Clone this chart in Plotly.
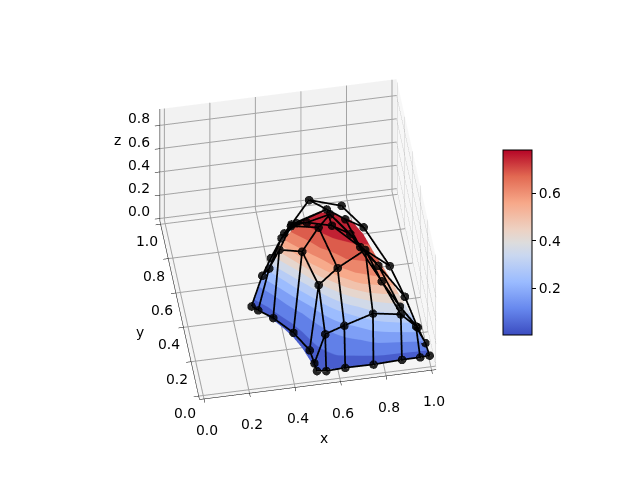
import plotly.graph_objects as go
import math
from plotly.colors import sample_colorscale
surf_x=[[.503,.561,.627,.688,.749,.811,.873,.935,.998],[.484,.538,.600,.659,.718,.779,.841,.903,.967],[.464,.516,.573,.630,.688,.748,.810,.872,.936],[.436,.482,.534,.588,.642,.700,.759,.820,.882],[.405,.448,.496,.548,.601,.657,.716,.776,.838],[.366,.407,.452,.502,.554,.609,.668,.729,.790],[.329,.369,.412,.463,.515,.570,.630,.692,.754],[.299,.336,.376,.426,.476,.530,.590,.651,.712],[.283,.312,.343,.385,.427,.473,.526,.580,.633]]
surf_y=[[.026,.026,.024,.023,.022,.026,.029,.030,.032],[.090,.070,.051,.035,.021,.014,.008,.000,-.006],[.161,.128,.099,.075,.054,.041,.030,.018,.007],[.229,.192,.160,.137,.117,.105,.094,.085,.075],[.285,.248,.218,.196,.179,.170,.162,.155,.145],[.343,.309,.282,.265,.251,.246,.241,.236,.227],[.389,.360,.339,.328,.320,.320,.318,.315,.306],[.417,.395,.381,.377,.374,.378,.378,.376,.365],[.438,.425,.419,.423,.426,.433,.435,.433,.418]]
surf_z=[[.03]*9,[.03,.07,.11,.14,.16,.18,.19,.20,.21],[.03,.11,.17,.23,.28,.31,.34,.35,.36],[.03,.14,.23,.31,.37,.42,.46,.48,.49],[.03,.16,.28,.37,.45,.51,.56,.58,.59],[.03,.18,.31,.42,.51,.58,.63,.66,.67],[.03,.19,.34,.46,.56,.63,.69,.72,.73],[.03,.20,.35,.48,.58,.66,.72,.76,.77],[.03,.21,.36,.49,.59,.67,.73,.77,.78]]
surf_c=[[.03]*9,[.03,.05,.07,.08,.09,.11,.115,.12,.13],[.03,.07,.10,.14,.17,.21,.24,.25,.26],[.03,.08,.14,.21,.27,.33,.39,.42,.43],[.03,.09,.17,.27,.37,.47,.55,.58,.59],[.03,.11,.21,.33,.47,.58,.65,.68,.69],[.03,.115,.24,.39,.55,.65,.71,.74,.745],[.03,.12,.25,.42,.58,.68,.74,.77,.775],[.03,.13,.26,.43,.59,.69,.745,.775,.78]]
net_x=[[.498,.539,.622,.747,.871,.951,.993],[.489,.545,.624,.749,.866,.933,.975],[.480,.536,.620,.743,.797,.863,.940],[.426,.484,.560,.619,.689,.790,.889],[.357,.395,.449,.516,.617,.723,.848],[.300,.347,.406,.474,.609,.679,.751],[.275,.318,.357,.420,.453,.549,.680]]
net_y=[[-.008,-.008,-.010,-.005,-.012,-.011,-.008],[.004,.056,.025,.020,-.011,-.011,-.006],[.075,.174,.178,.188,.078,-.006,-.011],[.179,.296,.322,.369,.256,.122,.020],[.297,.362,.383,.365,.310,.202,.172],[.351,.343,.374,.382,.399,.330,.278],[.378,.353,.355,.386,.392,.504,.435]]
net_z=[[.08,.07,.08,.07,.09,.09,.09],[.13,.29,.39,.47,.48,.36,.20],[.14,.54,.66,.77,.65,.54,.35],[.15,.66,.81,.84,.82,.72,.58],[.12,.60,.76,.80,.83,.78,.63],[.12,.48,.68,.78,.84,.84,.83],[.12,.41,.55,.70,.76,.78,.80]]
xy_ticks=[0,.2,.4,.6,.8,1]
z_ticks=[0,.2,.4,.6,.8]
cbar_ticks=[.2,.4,.6]
zmin,zmax=.003,.782
cw=[[0,"#3b4cc0"],[.143,"#6788ee"],[.286,"#9abbff"],[.429,"#c9d7f0"],[.5,"#dddcdc"],[.571,"#edd1c2"],[.714,"#f7a889"],[.857,"#e26952"],[1,"#b40426"]]
N=12
steps=[]
for k in range(N):
    c=sample_colorscale(cw,[(k+.5)/N])[0]
    steps+=[[k/N,c],[(k+1)/N,c]]
fnt=dict(family="DejaVu Sans",size=13.9,color="black")
fig=go.Figure(go.Surface(x=surf_x,y=surf_y,z=surf_z,surfacecolor=surf_c,colorscale=steps,cmin=zmin,cmax=zmax,showscale=False,
  lighting=dict(ambient=1,diffuse=0,specular=0,fresnel=0,roughness=1)))
line=dict(color="black",width=3.5)
for j in range(7):
    fig.add_trace(go.Scatter3d(x=net_x[j],y=net_y[j],z=net_z[j],mode="lines",line=line,showlegend=False))
for i in range(7):
    fig.add_trace(go.Scatter3d(x=[r[i] for r in net_x],y=[r[i] for r in net_y],z=[r[i] for r in net_z],mode="lines",line=line,showlegend=False))
fig.add_trace(go.Scatter3d(x=sum(net_x,[]),y=sum(net_y,[]),z=sum(net_z,[]),mode="markers",marker=dict(color="rgba(0,0,0,.85)",size=5),showlegend=False))
fig.add_trace(go.Scatter3d(x=[.5,.5],y=[.5,.5],z=[.1,.2],mode="markers",marker=dict(size=.01,opacity=0,color=[zmin,zmax],cmin=zmin,cmax=zmax,colorscale=cw,showscale=True,
 colorbar=dict(x=495/640,xanchor="left",xpad=0,ypad=0,thickness=29,len=185/480,y=(480-234.5)/480,outlinewidth=1,outlinecolor="black",ticks="outside",ticklen=4,tickcolor="black",tickvals=cbar_ticks,ticktext=[f"{v:.1f}" for v in cbar_ticks],tickfont=fnt)),showlegend=False))
def ax(rng,vals,bg):
    return dict(title=dict(text=""),range=rng,tickvals=vals,showticklabels=False,
      showbackground=True,backgroundcolor=bg,gridcolor="#a4a4a4",gridwidth=2,showline=True,linecolor="black",zeroline=False,ticks="outside",tickcolor="black",showspikes=False)
def lab(t,x,y,z,dx,dy):
    return dict(text=t,x=x,y=y,z=z,showarrow=False,xshift=dx,yshift=-dy,font=fnt)
anns=[lab(f"{v:.1f}",v,-.02,-.02,3,31) for v in xy_ticks]
anns+=[lab(f"{v:.1f}",-.02,v,-.02,-14,17) for v in xy_ticks]
anns+=[lab(f"{v:.1f}",-.02,1.02,v,-21,-7) for v in z_ticks]
anns+=[lab("x",.5,-.02,-.02,6,53),lab("y",-.02,.5,-.02,-40,22),lab("z",-.02,1.02,.4,-42,-32)]
az=math.radians(-99.5);el=math.radians(48);r=2.03
eye=dict(x=r*math.cos(el)*math.cos(az),y=r*math.cos(el)*math.sin(az),z=r*math.sin(el))
fig.update_layout(width=640,height=480,margin=dict(l=0,r=0,t=0,b=0),paper_bgcolor="white",
 scene=dict(domain=dict(x=[0,.906],y=[0,1]),aspectmode="manual",aspectratio=dict(x=1,y=1,z=0.71),annotations=anns,
  xaxis=ax([-0.02,1.02],xy_ticks,"#f7f7f7"),yaxis=ax([-0.02,1.02],xy_ticks,"#f2f2f2"),zaxis=ax([-0.02,0.94],z_ticks,"#f5f5f5"),
  camera=dict(eye=eye,up=dict(x=0,y=0,z=1),center=dict(x=0,y=0,z=-.055),projection=dict(type="orthographic"))))
fig.write_html("out.html")
